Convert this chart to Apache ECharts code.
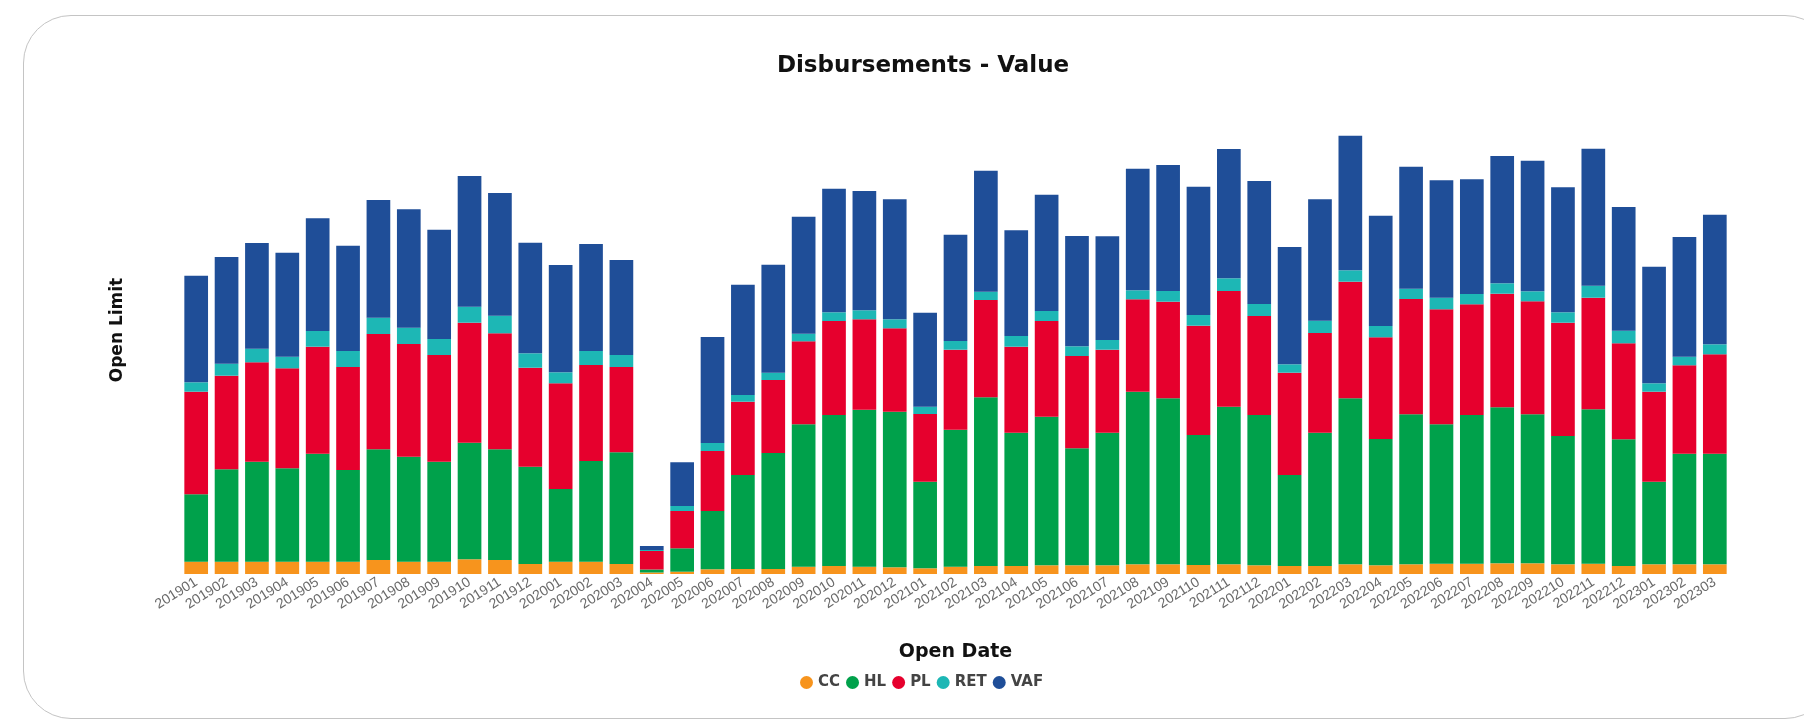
<!DOCTYPE html>
<html>
<head>
<meta charset="utf-8">
<script src="https://cdn.jsdelivr.net/npm/echarts@6/dist/echarts.min.js"></script>
<style>
  html, body { margin: 0; padding: 0; background: #fff; width: 1804px; height: 721px; overflow: hidden; }
  #card { position: absolute; left: 23px; top: 15px; width: 1810px; height: 704px; border: 1px solid #c4c4c4; border-radius: 48px; box-sizing: border-box; }
  #chart { position: absolute; left: 0; top: 0; width: 1804px; height: 721px; }
</style>
</head>
<body>
<div id="card"></div>
<div id="chart"></div>
<script>
const categories = ['201901','201902','201903','201904','201905','201906','201907','201908','201909','201910','201911','201912',
  '202001','202002','202003','202004','202005','202006','202007','202008','202009','202010','202011','202012',
  '202101','202102','202103','202104','202105','202106','202107','202108','202109','202110','202111','202112',
  '202201','202202','202203','202204','202205','202206','202207','202208','202209','202210','202211','202212',
  '202301','202302','202303'];

const ccValues = [12.3,12.3,12.3,12.3,12.3,12.3,14,12.3,12.3,14.7,14,10,
  12.3,12.3,10,1.5,2.3,4.7,5,5,7.3,8,7.3,6.7,
  5.7,7.3,8,8,8.7,8.7,8.7,9.7,9.7,9,9.7,8.7,
  8,8,9.7,8.7,9.7,10.3,10.3,10.7,10.7,9.7,10.3,8,
  9.7,9.7,9.7];
const hlValues = [67.4,92.4,100,93.4,108,91.7,110.7,105,100,116.6,110.7,97.3,
  72.7,100.7,111.7,3,23.4,58.3,94,116,142.4,151,157,155.6,
  86.6,137,168.7,133.3,148.6,117,132.6,172.6,166,130,157.6,150.3,
  91,133.3,166,126.3,150,139.4,148.7,156,149,128.3,154.4,126.7,
  82.6,110.6,110.6];
const plValues = [102.6,93.6,99.4,100,107,103,115.3,112.7,106.7,120,116,99,
  105.7,96,85.3,18.5,37.3,60,73.3,73,83,94,90.4,83.4,
  67.7,80,97.3,86,95.7,92.3,83,92.4,96.6,109.3,115.7,99,
  102.3,99.7,116.6,101.7,115.3,115,110.7,113.6,113,113.3,111.6,96,
  90,88.4,99.4];
const retValues = [9.4,12,13.6,11.6,15.7,16,16.3,16.3,16,16,17.6,14.4,
  11,14,12,1,5,8,6.7,7.3,7.6,8.7,9,9,
  7.3,8.7,8.3,10.7,10,9.7,9.7,9,10.7,10.7,12.7,12,
  8.4,12.3,11.4,11.3,10.3,11.6,10.3,10.4,10,10.4,12,12.6,
  8.4,8.6,10];
const vafValues = [106.6,106.7,105.7,104,112.7,105.3,117.7,118.4,109.3,130.7,122.7,110.6,
  107.3,107,95,4,43.7,106,110.3,108,117,123.6,119.3,120,
  94,106.3,121,105.7,116.3,110.3,103.7,121.6,126,128.3,129.3,123,
  117.3,121.4,134.6,110.3,122,117.4,114.7,127.3,130.6,125,137,123.7,
  116.6,119.7,129.6];

const seriesNames = ['CC','HL','PL','RET','VAF'];
const seriesValues = [ccValues, hlValues, plValues, retValues, vafValues];
const colors = ['#F7941D','#00A14B','#E6002D','#1DB7B5','#1F4E98'];

const chart = echarts.init(document.getElementById('chart'), null, { renderer: 'canvas' });
chart.setOption({
  animation: false,
  backgroundColor: 'transparent',
  title: {
    text: 'Disbursements - Value',
    left: 923,
    textAlign: 'center',
    top: 55,
    padding: 0,
    textStyle: { fontFamily: 'DejaVu Sans', fontSize: 23, fontWeight: 'bold', color: '#111' }
  },
  legend: {
    data: seriesNames,
    left: 800,
    top: 675,
    padding: 0,
    icon: 'circle',
    itemWidth: 13,
    itemHeight: 13,
    itemGap: 6,
    textStyle: { fontFamily: 'DejaVu Sans', fontSize: 15, fontWeight: 'bold', color: '#444' }
  },
  grid: { left: 181, right: 74, top: 86, bottom: 147, containLabel: false },
  xAxis: {
    type: 'category',
    data: categories,
    name: 'Open Date',
    nameLocation: 'middle',
    nameGap: 69,
    nameTextStyle: { fontFamily: 'DejaVu Sans', fontSize: 19, fontWeight: 'bold', color: '#111' },
    axisLine: { show: false },
    axisTick: { show: false },
    axisLabel: { interval: 0, rotate: 32, margin: 7, color: '#6a6a6a', fontSize: 14, fontFamily: 'Liberation Sans' }
  },
  yAxis: {
    type: 'value',
    min: 0,
    max: 488,
    name: 'Open Limit',
    nameLocation: 'middle',
    nameGap: 55,
    nameTextStyle: { fontFamily: 'DejaVu Sans', fontSize: 17, fontWeight: 'bold', color: '#111' },
    axisLine: { show: false },
    axisTick: { show: false },
    axisLabel: { show: false },
    splitLine: { show: false }
  },
  series: seriesNames.map((name, i) => ({
    name: name,
    type: 'bar',
    stack: 'total',
    barCategoryGap: '22%',
    itemStyle: { color: colors[i] },
    data: seriesValues[i]
  }))
});
</script>
</body>
</html>
